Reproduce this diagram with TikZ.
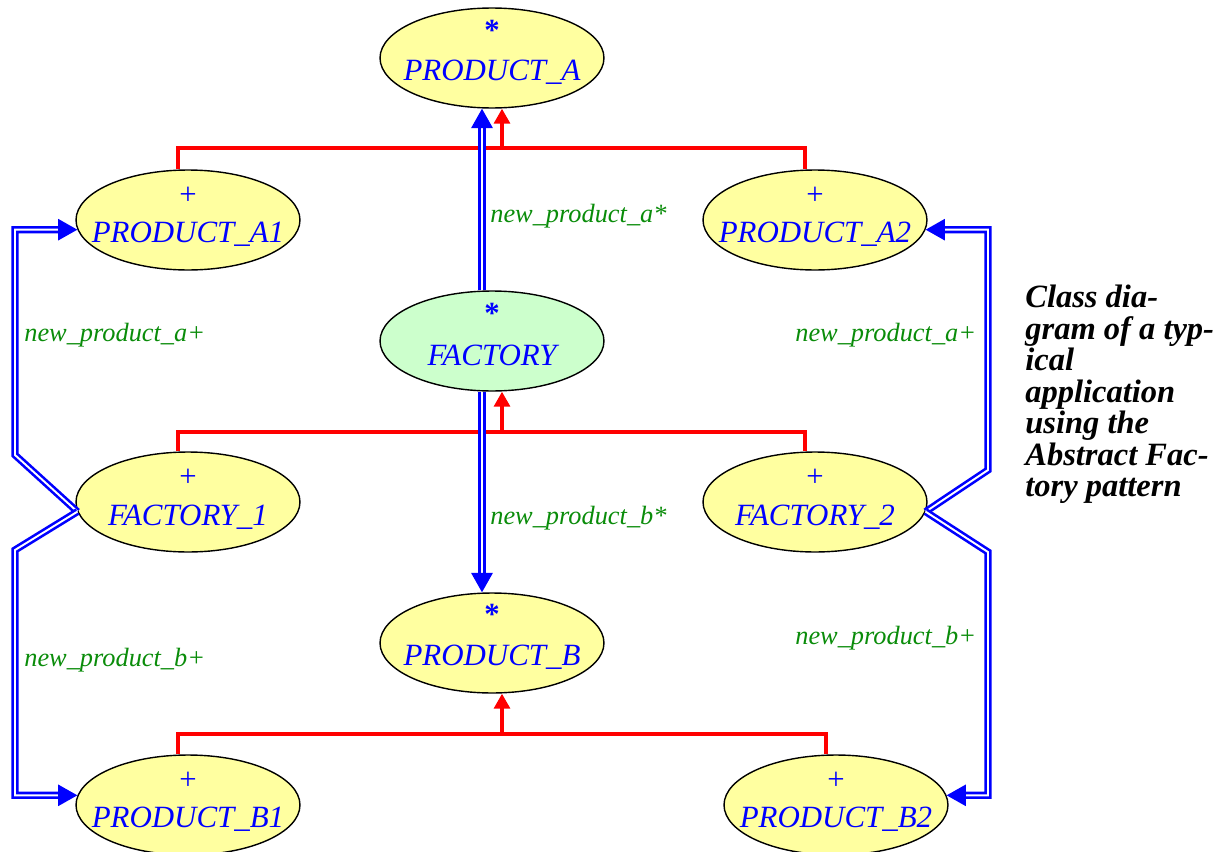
\documentclass[tikz,border=0pt]{standalone}
\usepackage{fontspec}
\setmainfont{Liberation Serif}
\usetikzlibrary{shapes.geometric,arrows.meta,calc}
\definecolor{clsyellow}{RGB}{255,255,160}
\definecolor{defgreen}{RGB}{204,255,204}
\definecolor{lblgreen}{RGB}{10,140,10}
\begin{document}
\begin{tikzpicture}[x=0.02cm,y=-0.02cm,
  cls/.style={ellipse,draw=black,line width=0.8pt,fill=clsyellow,minimum width=4.48cm,minimum height=2cm,inner sep=0pt},
  deferred/.style={cls,fill=defgreen},
  clsname/.style={text=blue,font=\fontsize{17.6}{21}\selectfont\itshape,inner sep=0pt},
  clsmark/.style={text=blue,font=\fontsize{17.5}{21}\selectfont,inner sep=0pt},
  inh/.style={red,line width=2pt},
  inharrow/.style={inh,-{Triangle[length=8.5pt,width=9pt]}},
  cli/.style={blue,double=white,line width=1.5pt,double distance=1.1pt,-{Triangle[length=11pt,width=12pt]}},
  feat/.style={text=lblgreen,font=\fontsize{15}{18}\selectfont\itshape,anchor=west,inner sep=0pt},
  caption/.style={font=\fontsize{18.5}{17.9}\selectfont\bfseries\itshape,align=left,anchor=north west,inner sep=0pt}]
\useasboundingbox (0,0) rectangle (1224,852);
\node[cls] (pa) at (492,58) {};
\node[clsmark] (pa-m) at (492,30) {\textbf{*}};
\node[clsname] (pa-n) at (492,72) {PRODUCT\_A};
\node[cls] (pa1) at (188,220) {};
\node[clsmark] (pa1-m) at (188,196) {+};
\node[clsname] (pa1-n) at (188,234) {PRODUCT\_A1};
\node[cls] (pa2) at (815,220) {};
\node[clsmark] (pa2-m) at (815,196) {+};
\node[clsname] (pa2-n) at (815,234) {PRODUCT\_A2};
\node[deferred] (fa) at (492,341) {};
\node[clsmark] (fa-m) at (492,313) {\textbf{*}};
\node[clsname] (fa-n) at (492,355) {FACTORY};
\node[cls] (f1) at (188,502) {};
\node[clsmark] (f1-m) at (188,478) {+};
\node[clsname] (f1-n) at (188,517) {FACTORY\_1};
\node[cls] (f2) at (815,502) {};
\node[clsmark] (f2-m) at (815,478) {+};
\node[clsname] (f2-n) at (815,517) {FACTORY\_2};
\node[cls] (pb) at (492,643) {};
\node[clsmark] (pb-m) at (492,614) {\textbf{*}};
\node[clsname] (pb-n) at (492,657) {PRODUCT\_B};
\node[cls] (pb1) at (188,805) {};
\node[clsmark] (pb1-m) at (188,781) {+};
\node[clsname] (pb1-n) at (188,819) {PRODUCT\_B1};
\node[cls] (pb2) at (836,805) {};
\node[clsmark] (pb2-m) at (836,781) {+};
\node[clsname] (pb2-n) at (836,819) {PRODUCT\_B2};
\coordinate (hA) at (502,148);
\coordinate (hF) at (502,432);
\coordinate (hB) at (502,734);
\draw[inh] ($(pa1.north)+(-10,0)$) |- (hA) -| ($(pa2.north)+(-10,0)$);
\draw[inharrow] (hA) -- (hA |- pa.south);
\draw[inh] ($(f1.north)+(-10,0)$) |- (hF) -| ($(f2.north)+(-10,0)$);
\draw[inharrow] (hF) -- (hF |- fa.south);
\draw[inh] ($(pb1.north)+(-10,0)$) |- (hB) -| ($(pb2.north)+(-10,0)$);
\draw[inharrow] (hB) -- (hB |- pb.south);
\draw[cli] ($(fa.north)+(-10,0)$) -- ($(pa.south)+(-10,0)$);
\draw[cli] ($(fa.south)+(-10,0)$) -- ($(pb.north)+(-10,0)$);
\coordinate (lU) at (15,455);
\coordinate (lD) at (15,550);
\coordinate (rU) at (988,470);
\coordinate (rD) at (988,552);
\draw[cli] (f1.185) -- (lU) -- (lU |- pa1.185) -- (pa1.185);
\draw[cli] (f1.185) -- (lD) -- (lD |- pb1.175) -- (pb1.175);
\draw[cli] (f2.355) -- (rU) -- (rU |- pa2.355) -- (pa2.355);
\draw[cli] (f2.355) -- (rD) -- (rD |- pb2.5) -- (pb2.5);
\node[feat] (fpa) at (490,216) {new\_product\_a*};
\node[feat] (fpb) at (490,518) {new\_product\_b*};
\node[feat] (f1a) at (24,335) {new\_product\_a+};
\node[feat] (f1b) at (24,660) {new\_product\_b+};
\node[feat] (f2a) at (795,335) {new\_product\_a+};
\node[feat] (f2b) at (795,638) {new\_product\_b+};
\node[caption] (cap) at (1025,285) {Class dia-\\gram of a typ-\\ical\\application\\using the\\Abstract Fac-\\tory pattern};
\end{tikzpicture}
\end{document}
